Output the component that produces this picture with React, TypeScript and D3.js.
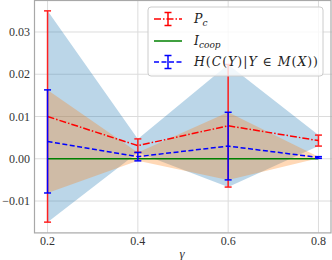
import React from "react";
import * as d3 from "d3";

const gammas = [0.2, 0.4, 0.6, 0.8];
const pcMean = [0.01, 0.0031, 0.0078, 0.0043];
const pcErr = [0.025, 0.0016, 0.0145, 0.0013];
const hMean = [0.0041, 0.0005, 0.003, 0.0003];
const hErr = [0.0122, 0.001, 0.008, 0.0002];
const icoop = [0, 0, 0, 0];
const xTicks = [0.2, 0.4, 0.6, 0.8];
const yTicks = [-0.01, 0, 0.01, 0.02, 0.03];

const W = 332;
const H = 260;
const FONT = "'Liberation Serif', 'DejaVu Serif', serif";
const LEG_FONT = "'DejaVu Serif', serif";

export default function App() {
  const x = d3.scaleLinear().domain([0.17, 0.83]).range([34, 332]);
  const y = d3.scaleLinear().domain([-0.0175, 0.0375]).range([232.7, 0.3]);
  const [x0, x1] = x.range();
  const [yb, yt] = y.range();

  const band = (m: number[], e: number[]) =>
    d3
      .area<number>()
      .x((_, i) => x(gammas[i]))
      .y0((_, i) => y(m[i] - e[i]))
      .y1((_, i) => y(m[i] + e[i]))(gammas) || "";
  const line = (m: number[]) =>
    d3
      .line<number>()
      .x((_, i) => x(gammas[i]))
      .y((_, i) => y(m[i]))(gammas) || "";

  const errBars = (m: number[], e: number[], color: string) =>
    gammas.map((g, i) => {
      const cx = x(g);
      const top = y(m[i] + e[i]);
      const bot = y(m[i] - e[i]);
      return (
        <g key={i} stroke={color} strokeWidth={1.5}>
          <line x1={cx} x2={cx} y1={top} y2={bot} />
          <line x1={cx - 3.5} x2={cx + 3.5} y1={top} y2={top} />
          <line x1={cx - 3.5} x2={cx + 3.5} y1={bot} y2={bot} />
        </g>
      );
    });

  const fmtY = (v: number) => (v < 0 ? "\u2212" : "") + Math.abs(v).toFixed(2);

  const legendHandle = (cy: number, color: string, dash: string | undefined, err: boolean) => (
    <g stroke={color} strokeWidth={1.5}>
      <line x1={154} x2={182} y1={cy} y2={cy} strokeDasharray={dash} />
      {err && (
        <>
          <line x1={168} x2={168} y1={cy - 6.5} y2={cy + 6.5} />
          <line x1={164.5} x2={171.5} y1={cy - 6.5} y2={cy - 6.5} />
          <line x1={164.5} x2={171.5} y1={cy + 6.5} y2={cy + 6.5} />
        </>
      )}
    </g>
  );

  return (
    <svg
      width={W}
      height={H}
      style={{ position: "absolute", left: 0, top: 0, background: "#fff" }}
      fontFamily={FONT}
    >
      {/* grid */}
      <g stroke="#dcdcdc" strokeWidth={1}>
        {xTicks.map((t) => (
          <line key={t} x1={x(t)} x2={x(t)} y1={yt} y2={yb} />
        ))}
        {yTicks.map((t) => (
          <line key={t} x1={x0} x2={x1} y1={y(t)} y2={y(t)} />
        ))}
      </g>

      {/* bands */}
      <path d={band(pcMean, pcErr)} fill="#1f77b4" fillOpacity={0.3} />
      <path d={band(hMean, hErr)} fill="#ff7f0e" fillOpacity={0.3} />

      {/* P_c */}
      {errBars(pcMean, pcErr, "#ff2020")}
      <path d={line(pcMean)} fill="none" stroke="#ff0000" strokeWidth={1.5} strokeDasharray="7,2,1.5,2" />

      {/* I_coop */}
      <path d={line(icoop)} fill="none" stroke="#008000" strokeWidth={1.5} />

      {/* H */}
      {errBars(hMean, hErr, "#0000ff")}
      <path d={line(hMean)} fill="none" stroke="#0000ff" strokeWidth={1.5} strokeDasharray="5,2.5" />

      {/* spines */}
      <rect x={x0 + 0.5} y={yt + 0.2} width={x1 - x0 - 1.5} height={yb - yt} fill="none" stroke="#a8a8a8" strokeWidth={1.2} />

      {/* tick labels */}
      <g fontSize={12} fill="#333">
        {xTicks.map((t) => (
          <text key={t} x={x(t)} y={245} textAnchor="middle">
            {t.toFixed(1)}
          </text>
        ))}
        {yTicks.map((t) => (
          <text key={t} x={30} y={y(t) + 4} textAnchor="end">
            {fmtY(t)}
          </text>
        ))}
      </g>
      <text x={182} y={258} fontSize={13} fontStyle="italic" textAnchor="middle" fill="#333">
        γ
      </text>

      {/* legend */}
      <rect x={148} y={7} width={175} height={69} rx={3} fill="#fff" fillOpacity={0.8} stroke="#cccccc" strokeWidth={1} />
      {legendHandle(19, "#ff0000", "7,2,1.5,2", true)}
      {legendHandle(41, "#008000", undefined, false)}
      {legendHandle(62, "#0000ff", "5,2.5", true)}
      <g fontSize={12.5} fill="#222" fontFamily={LEG_FONT}>
        <text x={194} y={23}>
          <tspan fontStyle="italic">P</tspan>
          <tspan fontStyle="italic" fontSize={9} dy={3}>c</tspan>
        </text>
        <text x={194} y={45}>
          <tspan fontStyle="italic">I</tspan>
          <tspan fontStyle="italic" fontSize={9} dy={3}>coop</tspan>
        </text>
        <text x={194} y={66} textLength={124} lengthAdjust="spacing">
          <tspan fontStyle="italic">H</tspan>
          <tspan>(</tspan>
          <tspan fontStyle="italic">C</tspan>
          <tspan>(</tspan>
          <tspan fontStyle="italic">Y</tspan>
          <tspan>)|</tspan>
          <tspan fontStyle="italic">Y</tspan>
          <tspan> ∈ </tspan>
          <tspan fontStyle="italic">M</tspan>
          <tspan>(</tspan>
          <tspan fontStyle="italic">X</tspan>
          <tspan>))</tspan>
        </text>
      </g>
    </svg>
  );
}
